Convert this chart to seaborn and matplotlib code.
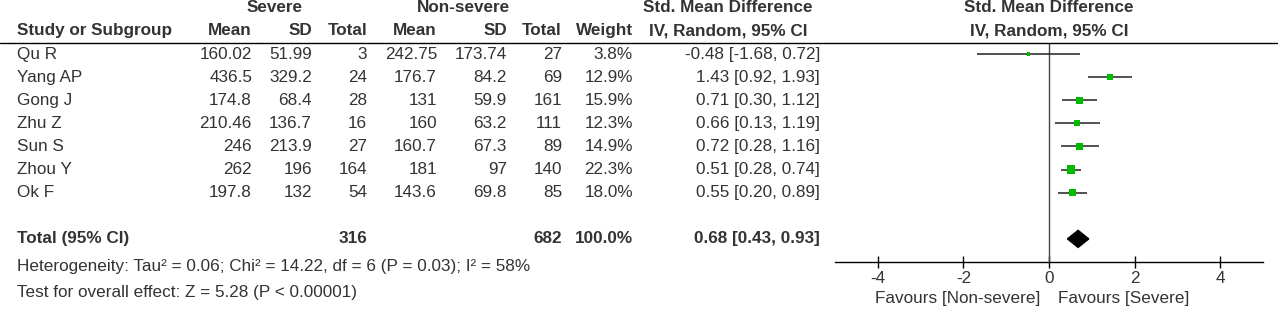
import numpy as np
import pandas as pd
import matplotlib
matplotlib.use("Agg")
import matplotlib.pyplot as plt
import seaborn as sns
from matplotlib.transforms import blended_transform_factory

# data
studies = ["Qu R", "Yang AP", "Gong J", "Zhu Z", "Sun S", "Zhou Y", "Ok F"]
sev_mean = [160.02, 436.5, 174.8, 210.46, 246, 262, 197.8]
sev_sd = [51.99, 329.2, 68.4, 136.7, 213.9, 196, 132]
sev_n = [3, 24, 28, 16, 27, 164, 54]
ns_mean = [242.75, 176.7, 131, 160, 160.7, 181, 143.6]
ns_sd = [173.74, 84.2, 59.9, 63.2, 67.3, 97, 69.8]
ns_n = [27, 69, 161, 111, 89, 140, 85]
weight = [3.8, 12.9, 15.9, 12.3, 14.9, 22.3, 18.0]
smd = [-0.48, 1.43, 0.71, 0.66, 0.72, 0.51, 0.55]
ci_lo = [-1.68, 0.92, 0.30, 0.13, 0.28, 0.28, 0.20]
ci_hi = [0.72, 1.93, 1.12, 1.19, 1.16, 0.74, 0.89]

total_sev_n = 316
total_ns_n = 682
total_weight = 100.0
total_smd = 0.68
total_lo = 0.43
total_hi = 0.93

heterogeneity = "Heterogeneity: Tau\u00b2 = 0.06; Chi\u00b2 = 14.22, df = 6 (P = 0.03); I\u00b2 = 58%"
overall = "Test for overall effect: Z = 5.28 (P < 0.00001)"
x_ticks = [-4, -2, 0, 2, 4]


def main():
    sns.set_style("white")
    plt.rcParams["font.family"] = ["Liberation Sans", "DejaVu Sans"]
    txt = "#333333"
    fs = 12.3

    df = pd.DataFrame({
        "Study": studies, "Weight": weight, "SMD": smd,
        "Lo": ci_lo, "Hi": ci_hi, "Row": np.arange(len(studies)),
    })
    total_row = len(studies) + 1

    W, H = 1280, 309
    fig = plt.figure(figsize=(W / 100, H / 100), dpi=100)
    ax = fig.add_axes([835 / W, 1 - 262 / H, (1263 - 835) / W, (262 - 43) / H])

    # CI lines + weighted squares (area ~ weight)
    ax.hlines(df["Row"], df["Lo"], df["Hi"], color="#222222", lw=1.1, zorder=2)
    sns.scatterplot(data=df, x="SMD", y="Row", size="Weight",
                    sizes=(3.8 * 1.6, 22.3 * 1.6), size_norm=(3.8, 22.3),
                    marker="s", color="#00bb00", linewidth=0, legend=False,
                    ax=ax, zorder=3)
    # pooled diamond
    h = 0.37
    ax.fill([total_lo, total_smd, total_hi, total_smd],
            [total_row, total_row - h, total_row, total_row + h],
            color="black", zorder=3)
    ax.axvline(0, color="#444444", lw=1.0, zorder=1)

    ax.set_xlim(-5, 5)
    ax.set_ylim(9.0, -0.48)
    ax.set_xlabel("")
    ax.set_ylabel("")
    ax.set_yticks([])
    ax.set_xticks(x_ticks)
    ax.set_xticklabels([str(t) for t in x_ticks], fontsize=fs, color=txt)
    ax.tick_params(axis="x", direction="inout", length=9, width=1,
                   color="black", pad=2, bottom=True)
    for s in ["top", "left", "right"]:
        ax.spines[s].set_visible(False)
    ax.spines["bottom"].set_color("black")
    ax.spines["bottom"].set_linewidth(1.0)
    ax.patch.set_alpha(0)

    tr = blended_transform_factory(fig.transFigure, ax.transData)
    trx = blended_transform_factory(ax.transData, fig.transFigure)

    def put(xpx, row, s, ha="right", bold=False):
        fig.text(xpx / W, row, s, transform=tr, ha=ha, va="center",
                 fontsize=fs, color=txt, fontweight="bold" if bold else "normal")

    # header
    put(275, -2, "Severe", ha="center", bold=True)
    put(463, -2, "Non-severe", ha="center", bold=True)
    put(728, -2, "Std. Mean Difference", ha="center", bold=True)
    put(1049, -2, "Std. Mean Difference", ha="center", bold=True)
    put(17, -1, "Study or Subgroup", ha="left", bold=True)
    cols = [252, 312, 367, 437, 507, 562, 633]
    for xpx, s in zip(cols, ["Mean", "SD", "Total", "Mean", "SD", "Total", "Weight"]):
        put(xpx, -1, s, bold=True)
    put(728, -1, "IV, Random, 95% CI", ha="center", bold=True)
    put(1049, -1, "IV, Random, 95% CI", ha="center", bold=True)
    ax.plot([0, 1277 / W], [-0.5, -0.5], transform=tr, color="black",
            lw=1.0, clip_on=False)

    # study rows
    for i in range(len(studies)):
        put(17, i, studies[i], ha="left")
        vals = [f"{sev_mean[i]:g}", f"{sev_sd[i]:g}", f"{sev_n[i]}",
                f"{ns_mean[i]:g}", f"{ns_sd[i]:g}", f"{ns_n[i]}",
                f"{weight[i]:.1f}%"]
        for xpx, s in zip(cols, vals):
            put(xpx, i, s)
        put(820, i, f"{smd[i]:.2f} [{ci_lo[i]:.2f}, {ci_hi[i]:.2f}]")

    # total row
    put(17, total_row, "Total (95% CI)", ha="left", bold=True)
    put(367, total_row, f"{total_sev_n}", bold=True)
    put(562, total_row, f"{total_ns_n}", bold=True)
    put(633, total_row, f"{total_weight:.1f}%", bold=True)
    put(820, total_row, f"{total_smd:.2f} [{total_lo:.2f}, {total_hi:.2f}]", bold=True)

    put(17, 9.2, heterogeneity, ha="left")
    put(17, 10.3, overall, ha="left")

    ax.text(-0.2, 1 - 298 / H, "Favours [Non-severe]", transform=trx,
            ha="right", va="center", fontsize=fs, color=txt)
    ax.text(0.2, 1 - 298 / H, "Favours [Severe]", transform=trx,
            ha="left", va="center", fontsize=fs, color=txt)

    fig.savefig("out.png", dpi=100, facecolor="white")


if __name__ == "__main__":
    main()
